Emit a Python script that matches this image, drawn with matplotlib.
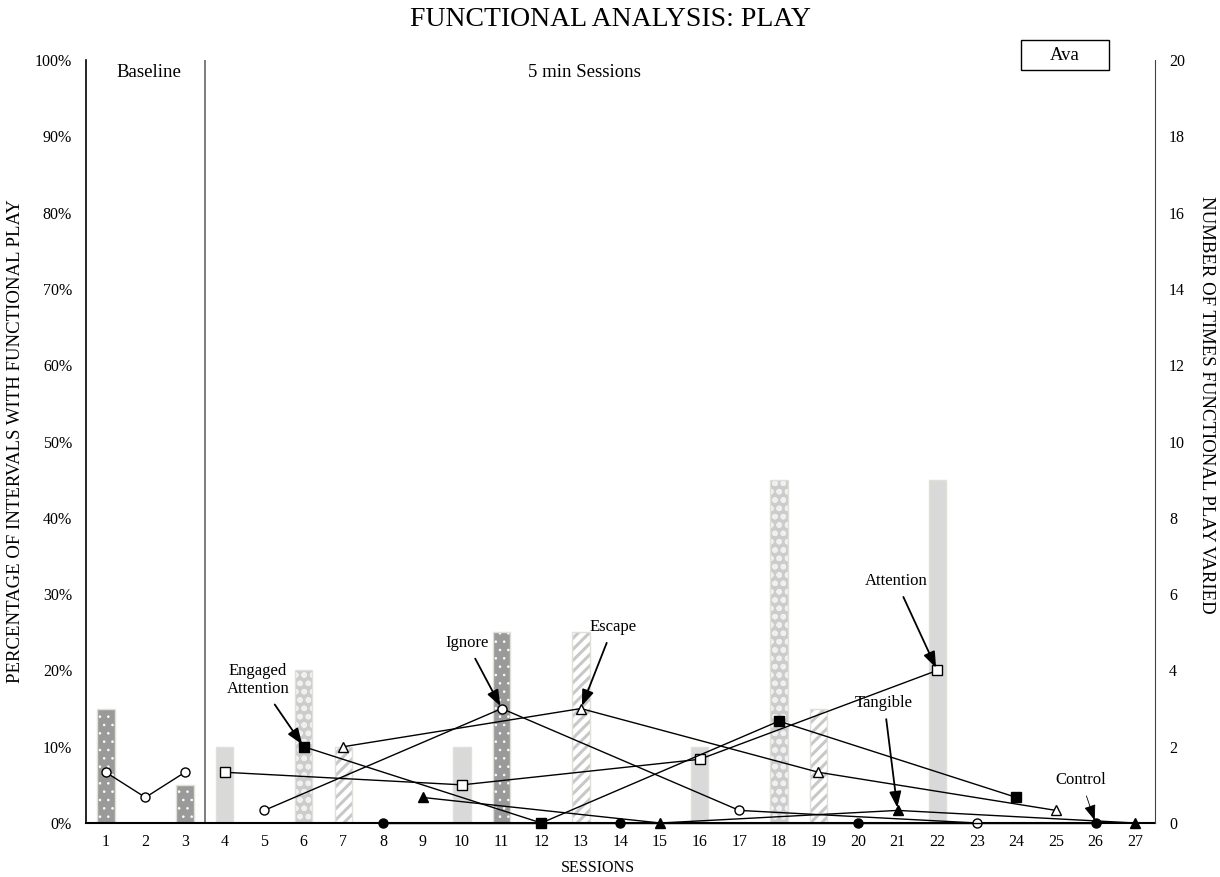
import matplotlib
matplotlib.use("Agg")
import matplotlib.pyplot as plt
from matplotlib.ticker import FuncFormatter
from matplotlib.patches import Rectangle

plt.rcParams['font.family'] = ['Liberation Serif', 'DejaVu Serif']
plt.rcParams['hatch.linewidth'] = 2.2

sessions = list(range(1, 28))
conditions = ["Baseline", "Baseline", "Baseline",
              "Attention", "Ignore", "Engaged Attention", "Escape", "Control", "Tangible",
              "Attention", "Ignore", "Engaged Attention", "Escape", "Control", "Tangible",
              "Attention", "Ignore", "Engaged Attention", "Escape", "Control", "Tangible",
              "Attention", "Ignore", "Engaged Attention", "Escape", "Control", "Tangible"]
pct_intervals = [15, 0, 5, 10, 0, 20, 10, 0, 0, 10, 25, 0, 25, 0, 0, 10, 0, 45, 15, 0, 0, 45, 0, 0, 0, 0, 0]
times_varied = [1.33, 0.67, 1.33, 1.33, 0.33, 2.0, 2.0, 0.0, 0.67, 1.0, 3.0, 0.0, 3.0, 0.0, 0.0,
                1.67, 0.33, 2.67, 1.33, 0.0, 0.33, 4.0, 0.0, 0.67, 0.33, 0.0, 0.0]
left_ticks = list(range(0, 101, 10))
right_ticks = list(range(0, 21, 2))

bar_style = {
    "Baseline": dict(fc="#9a9a9a", hatch="..", hc="white", hlw=0.6),
    "Ignore": dict(fc="#9a9a9a", hatch="..", hc="white", hlw=0.6),
    "Attention": dict(fc="#d9d9d9", hatch=None, hc=None, hlw=None),
    "Engaged Attention": dict(fc="#cccccc", hatch="oo", hc="#f0f0f0", hlw=1.6),
    "Escape": dict(fc="white", hatch="///", hc="#c8c8c8", hlw=2.2),
    "Control": dict(fc="#d9d9d9", hatch=None, hc=None, hlw=None),
    "Tangible": dict(fc="#d9d9d9", hatch=None, hc=None, hlw=None),
}
line_style = {
    "Baseline": dict(marker="o", mfc="white"),
    "Ignore": dict(marker="o", mfc="white"),
    "Attention": dict(marker="s", mfc="white"),
    "Engaged Attention": dict(marker="s", mfc="black"),
    "Escape": dict(marker="^", mfc="white"),
    "Control": dict(marker="o", mfc="black"),
    "Tangible": dict(marker="^", mfc="black"),
}

fig = plt.figure(figsize=(12.2, 8.77), dpi=100)
ax = fig.add_axes([86/1220, 54/877, (1155-86)/1220, (823-60)/877])
ax2 = ax.twinx()

W = 0.44
for s, c, p in zip(sessions, conditions, pct_intervals):
    if p <= 0:
        continue
    st = bar_style[c]
    if st["hatch"]:
        with plt.rc_context({'hatch.linewidth': st["hlw"]}):
            bars = ax.bar(s, p, width=W, color=st["fc"], hatch=st["hatch"], edgecolor=st["hc"],
                          linewidth=0, zorder=1)
            for b in bars:
                if hasattr(b, "set_hatch_linewidth"):
                    b.set_hatch_linewidth(st["hlw"])
    else:
        ax.bar(s, p, width=W, color=st["fc"], linewidth=0, zorder=1)
    ax.bar(s, p, width=W, fill=False, edgecolor="#e0e0d8", linewidth=1.0, zorder=1.5)

order = ["Baseline", "Attention", "Ignore", "Engaged Attention", "Escape", "Control", "Tangible"]
for c in order:
    xs = [s for s, cc in zip(sessions, conditions) if cc == c]
    ys = [v for v, cc in zip(times_varied, conditions) if cc == c]
    st = line_style[c]
    ax2.plot(xs, ys, color="black", lw=1.0, marker=st["marker"], mfc=st["mfc"], mec="black",
             mew=1.0, ms=6.5, clip_on=False, zorder=3)

ax.set_xlim(0.5, 27.5)
ax.set_ylim(0, 100)
ax2.set_ylim(0, 20)
ax.set_xticks(sessions)
ax.set_yticks(left_ticks)
ax.yaxis.set_major_formatter(FuncFormatter(lambda v, p: f"{int(v)}%"))
ax2.set_yticks(right_ticks)
for a in (ax, ax2):
    a.tick_params(length=0, labelsize=11.5)
    a.spines['top'].set_visible(False)
ax.tick_params(axis='x', pad=8)
ax.tick_params(axis='y', pad=10)
ax2.tick_params(axis='y', pad=10)
ax2.spines['right'].set_color('#444444')
ax2.spines['left'].set_visible(False)
ax2.spines['bottom'].set_visible(False)
ax.spines['right'].set_visible(False)
ax.spines['left'].set_linewidth(1.2)
ax.spines['bottom'].set_linewidth(1.5)

ax.axvline(3.5, color="#666666", lw=1.2, zorder=0.5)

fig.text(598/1220, 1 - 868/877, "SESSIONS", ha="center", va="center", fontsize=11.5)
fig.text(16/1220, 1 - 441/877, "PERCENTAGE OF INTERVALS WITH FUNCTIONAL PLAY",
         ha="center", va="center", rotation=90, fontsize=13.5)
fig.text(1206/1220, 1 - 405/877, "NUMBER OF TIMES FUNCTIONAL PLAY VARIED",
         ha="center", va="center", rotation=-90, fontsize=13.5)

fig.text(610/1220, 1 - 20/877, "FUNCTIONAL ANALYSIS: PLAY", ha="center", va="center", fontsize=20)
ax.text(2.09, 98.4, "Baseline", ha="center", va="center", fontsize=13.5)
ax.text(13.08, 98.4, "5 min Sessions", ha="center", va="center", fontsize=13.5)
fig.patches.append(Rectangle((1021/1220, 1 - 70/877), 88/1220, 30/877, transform=fig.transFigure,
                             fc="white", ec="black", lw=1.0))
fig.text(1065/1220, 1 - 55/877, "Ava", ha="center", va="center", fontsize=13.5)

ann = [
    ("Engaged\nAttention", (6, 2.0), (4.84, 3.75), 1.3),
    ("Ignore", (11, 3.0), (10.12, 4.72), 1.3),
    ("Escape", (13, 3.0), (13.81, 5.14), 1.3),
    ("Attention", (22, 4.0), (20.96, 6.34), 1.3),
    ("Tangible", (21, 0.33), (20.66, 3.15), 1.3),
    ("Control", (26, 0.0), (25.63, 1.13), 0.6),
]
for txt, xy, xyt, lw in ann:
    ax2.annotate(txt, xy=xy, xytext=xyt, ha="center", va="center", fontsize=12,
                 arrowprops=dict(arrowstyle="-|>,head_length=0.8,head_width=0.3", color="black",
                                 lw=lw, shrinkA=4, shrinkB=2), zorder=5)

fig.savefig("out.png", dpi=100)
